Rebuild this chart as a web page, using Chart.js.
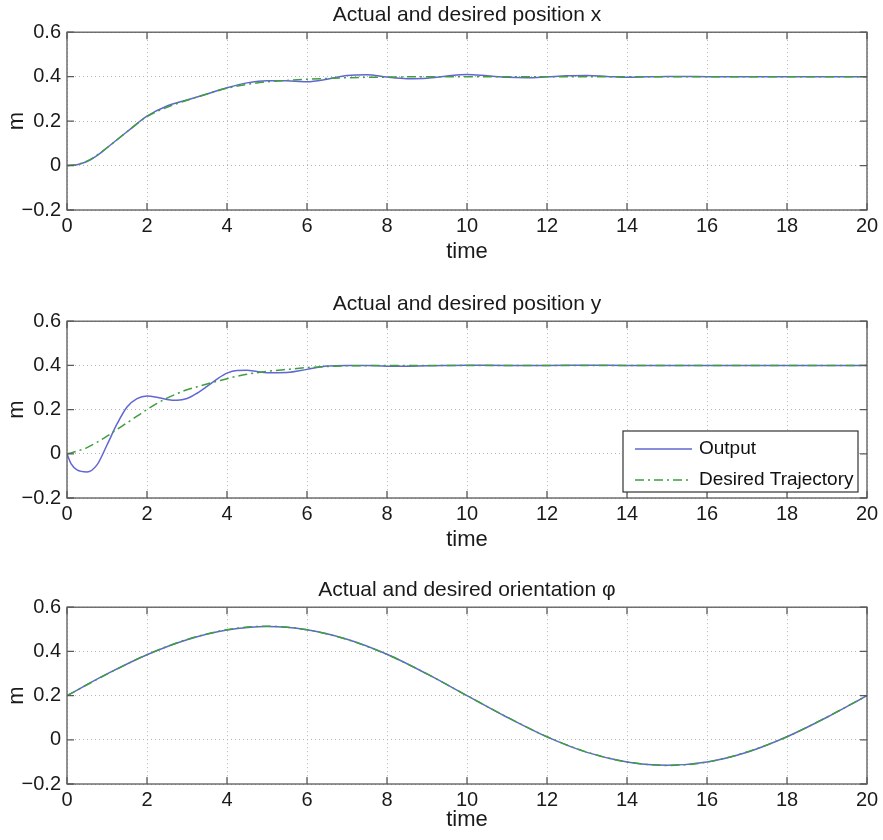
<!DOCTYPE html>
<html lang="en">
<head>
    <meta charset="UTF-8">
    <title>Actual and desired position / orientation</title>
    <script src="https://cdn.jsdelivr.net/npm/chart.js"></script>
    <style>
        body {
            margin: 0;
            background: #fff;
            width: 883px;
            height: 840px;
            overflow: hidden;
            position: relative;
        }
        .plot {
            position: absolute;
            left: 0;
            width: 883px;
        }
    </style>
</head>
<body>
    <div class="plot" style="top:0px;height:270px"><canvas id="plotX"></canvas></div>
    <div class="plot" style="top:289px;height:269px"><canvas id="plotY"></canvas></div>
    <div class="plot" style="top:575px;height:263px"><canvas id="plotPhi"></canvas></div>

    <script>
        // position x
        const timeX = [0, 0.25, 0.5, 0.75, 1, 1.5, 2, 2.5, 3, 3.5, 4, 4.5, 5, 5.5, 6, 6.5, 7, 7.5, 8, 8.5, 9, 9.5,
            10, 10.5, 11, 11.5, 12, 12.5, 13, 13.5, 14, 14.5, 15, 15.5, 16, 16.5, 17, 17.5, 18, 18.5, 19, 19.5, 20];
        const outputX = [0, 0.004, 0.018, 0.045, 0.08, 0.152, 0.222, 0.268, 0.295, 0.322, 0.35, 0.372, 0.382, 0.381,
            0.377, 0.388, 0.405, 0.409, 0.398, 0.391, 0.393, 0.403, 0.41, 0.404, 0.397, 0.395, 0.399, 0.404, 0.405,
            0.401, 0.397, 0.399, 0.401, 0.401, 0.4, 0.4, 0.4, 0.4, 0.4, 0.4, 0.4, 0.4, 0.4];
        const desiredX = [0, 0.005, 0.02, 0.047, 0.08, 0.152, 0.22, 0.262, 0.294, 0.322, 0.348, 0.365, 0.377, 0.383,
            0.388, 0.392, 0.395, 0.397, 0.398, 0.399, 0.4, 0.4, 0.4, 0.4, 0.4, 0.4, 0.4, 0.4, 0.4, 0.4, 0.4, 0.4,
            0.4, 0.4, 0.4, 0.4, 0.4, 0.4, 0.4, 0.4, 0.4, 0.4, 0.4];

        // position y
        const timeY = [0, 0.1, 0.25, 0.5, 0.75, 1, 1.25, 1.5, 1.75, 2, 2.25, 2.5, 2.75, 3, 3.25, 3.5, 3.75, 4,
            4.25, 4.5, 4.75, 5, 5.5, 6, 6.5, 7, 7.5, 8, 9, 10, 11, 12, 13, 14, 15, 16, 17, 18, 19, 20];
        const outputY = [0, -0.045, -0.073, -0.082, -0.05, 0.04, 0.135, 0.212, 0.25, 0.262, 0.256, 0.246, 0.242,
            0.25, 0.274, 0.305, 0.338, 0.365, 0.377, 0.378, 0.372, 0.367, 0.368, 0.382, 0.397, 0.4, 0.4, 0.396,
            0.398, 0.401, 0.4, 0.4, 0.401, 0.4, 0.4, 0.4, 0.4, 0.4, 0.4, 0.4];
        const desiredY = [0, 0.004, 0.012, 0.028, 0.052, 0.08, 0.11, 0.14, 0.17, 0.2, 0.228, 0.252, 0.272, 0.29,
            0.303, 0.316, 0.328, 0.34, 0.351, 0.36, 0.367, 0.373, 0.382, 0.39, 0.395, 0.398, 0.399, 0.4,
            0.4, 0.4, 0.4, 0.4, 0.4, 0.4, 0.4, 0.4, 0.4, 0.4, 0.4, 0.4];

        // orientation phi
        const timePhi = [0, 1, 2, 3, 4, 5, 6, 7, 8, 9, 10, 11, 12, 13, 14, 15, 16, 17, 18, 19, 20];
        const outputPhi = [0.2, 0.298, 0.385, 0.453, 0.497, 0.513, 0.498, 0.455, 0.387, 0.298, 0.2, 0.102, 0.013,
            -0.057, -0.1, -0.115, -0.1, -0.056, 0.014, 0.102, 0.2];
        const desiredPhi = [0.2, 0.297, 0.385, 0.454, 0.498, 0.514, 0.498, 0.454, 0.386, 0.298, 0.2, 0.103, 0.014,
            -0.056, -0.1, -0.116, -0.101, -0.055, 0.014, 0.103, 0.2];

        const seriesLabels = ['Output', 'Desired Trajectory'];
        const xTicks = [0, 20, 2];      // min, max, step
        const yTicks = [-0.2, 0.6, 0.2];

        const FONT = "'Liberation Sans', Arial, sans-serif";
        Chart.defaults.font.family = FONT;
        Chart.defaults.color = '#1a1a1a';

        // matlab-like box with inward ticks
        const framePlugin = {
            id: 'frame',
            afterDraw(chart) {
                const { ctx, chartArea: a, scales } = chart;
                ctx.save();
                ctx.strokeStyle = '#5a5a5a';
                ctx.lineWidth = 1.3;
                ctx.beginPath();
                scales.x.ticks.forEach(t => {
                    const px = scales.x.getPixelForValue(t.value);
                    ctx.moveTo(px, a.bottom); ctx.lineTo(px, a.bottom - 7);
                    ctx.moveTo(px, a.top); ctx.lineTo(px, a.top + 7);
                });
                scales.y.ticks.forEach(t => {
                    const py = scales.y.getPixelForValue(t.value);
                    ctx.moveTo(a.left, py); ctx.lineTo(a.left + 7, py);
                    ctx.moveTo(a.right, py); ctx.lineTo(a.right - 7, py);
                });
                ctx.stroke();
                ctx.strokeRect(a.left, a.top, a.right - a.left, a.bottom - a.top);
                ctx.restore();
            }
        };

        // legend box in lower right corner
        const boxLegend = {
            id: 'boxLegend',
            afterDraw(chart, args, opts) {
                if (!opts.show) return;
                const { ctx, chartArea: a } = chart;
                const w = 235, h = 61;
                const x0 = a.right - 9 - w, y0 = a.bottom - 6 - h;
                ctx.save();
                ctx.fillStyle = '#fff';
                ctx.fillRect(x0, y0, w, h);
                ctx.strokeStyle = '#333';
                ctx.lineWidth = 1.2;
                ctx.strokeRect(x0, y0, w, h);
                chart.data.datasets.forEach((ds, i) => {
                    const yy = y0 + 18 + i * 31;
                    ctx.strokeStyle = ds.borderColor;
                    ctx.lineWidth = ds.borderWidth;
                    ctx.setLineDash(ds.borderDash || []);
                    ctx.beginPath();
                    ctx.moveTo(x0 + 12, yy);
                    ctx.lineTo(x0 + 69, yy);
                    ctx.stroke();
                    ctx.setLineDash([]);
                    ctx.fillStyle = '#111';
                    ctx.font = '19px ' + FONT;
                    ctx.textBaseline = 'middle';
                    ctx.fillText(ds.label, x0 + 76, yy);
                });
                ctx.restore();
            }
        };

        function fmtY(v) {
            const r = Math.round(v * 10) / 10;
            if (r === 0) return '0';
            return r < 0 ? '\u2212' + Math.abs(r) : String(r);
        }

        function makePlot(id, title, t, out, des, showLegend, xHeight) {
            const ctx = document.getElementById(id).getContext('2d');
            return new Chart(ctx, {
                type: 'line',
                data: {
                    datasets: [{
                        label: seriesLabels[0],
                        data: t.map((x, i) => ({ x: x, y: out[i] })),
                        borderColor: '#6066d2',
                        borderWidth: 1.5,
                        pointRadius: 0,
                        cubicInterpolationMode: 'monotone',
                        order: 1
                    }, {
                        label: seriesLabels[1],
                        data: t.map((x, i) => ({ x: x, y: des[i] })),
                        borderColor: '#3f9e3f',
                        borderWidth: 1.5,
                        borderDash: [9, 4, 2, 4],
                        pointRadius: 0,
                        cubicInterpolationMode: 'monotone',
                        order: 0
                    }]
                },
                options: {
                    responsive: true,
                    maintainAspectRatio: false,
                    animation: false,
                    layout: { padding: { left: 0, right: 16, top: 0, bottom: 0 } },
                    plugins: {
                        legend: { display: false },
                        tooltip: { enabled: false },
                        title: {
                            display: true,
                            text: title,
                            fullSize: false,
                            color: '#1a1a1a',
                            font: { size: 21, weight: 'normal' },
                            padding: { top: 3, bottom: 4 }
                        },
                        boxLegend: { show: showLegend }
                    },
                    scales: {
                        x: {
                            type: 'linear',
                            min: xTicks[0],
                            max: xTicks[1],
                            ticks: { stepSize: xTicks[2], padding: 4, font: { size: 20 }, color: '#1a1a1a', maxRotation: 0 },
                            grid: { color: '#b4b4b4', lineWidth: 1, drawTicks: false },
                            border: { display: false, dash: [1, 3] },
                            title: { display: true, text: 'time', font: { size: 22 }, color: '#1a1a1a', padding: { top: 0, bottom: 5 } },
                            afterFit(scale) { scale.height = xHeight; }
                        },
                        y: {
                            min: yTicks[0],
                            max: yTicks[1],
                            ticks: { stepSize: yTicks[2], padding: 6, font: { size: 20 }, color: '#1a1a1a', callback: fmtY },
                            grid: { color: '#b4b4b4', lineWidth: 1, drawTicks: false },
                            border: { display: false, dash: [1, 3] },
                            title: { display: true, text: 'm', font: { size: 22 }, color: '#1a1a1a', padding: { top: 4, bottom: 0 } },
                            afterFit(scale) { scale.width = 67; }
                        }
                    }
                },
                plugins: [framePlugin, boxLegend]
            });
        }

        makePlot('plotX', 'Actual and desired position x', timeX, outputX, desiredX, false, 60);
        makePlot('plotY', 'Actual and desired position y', timeY, outputY, desiredY, true, 60);
        makePlot('plotPhi', 'Actual and desired orientation \u03c6', timePhi, outputPhi, desiredPhi, false, 54);
    </script>
</body>
</html>
